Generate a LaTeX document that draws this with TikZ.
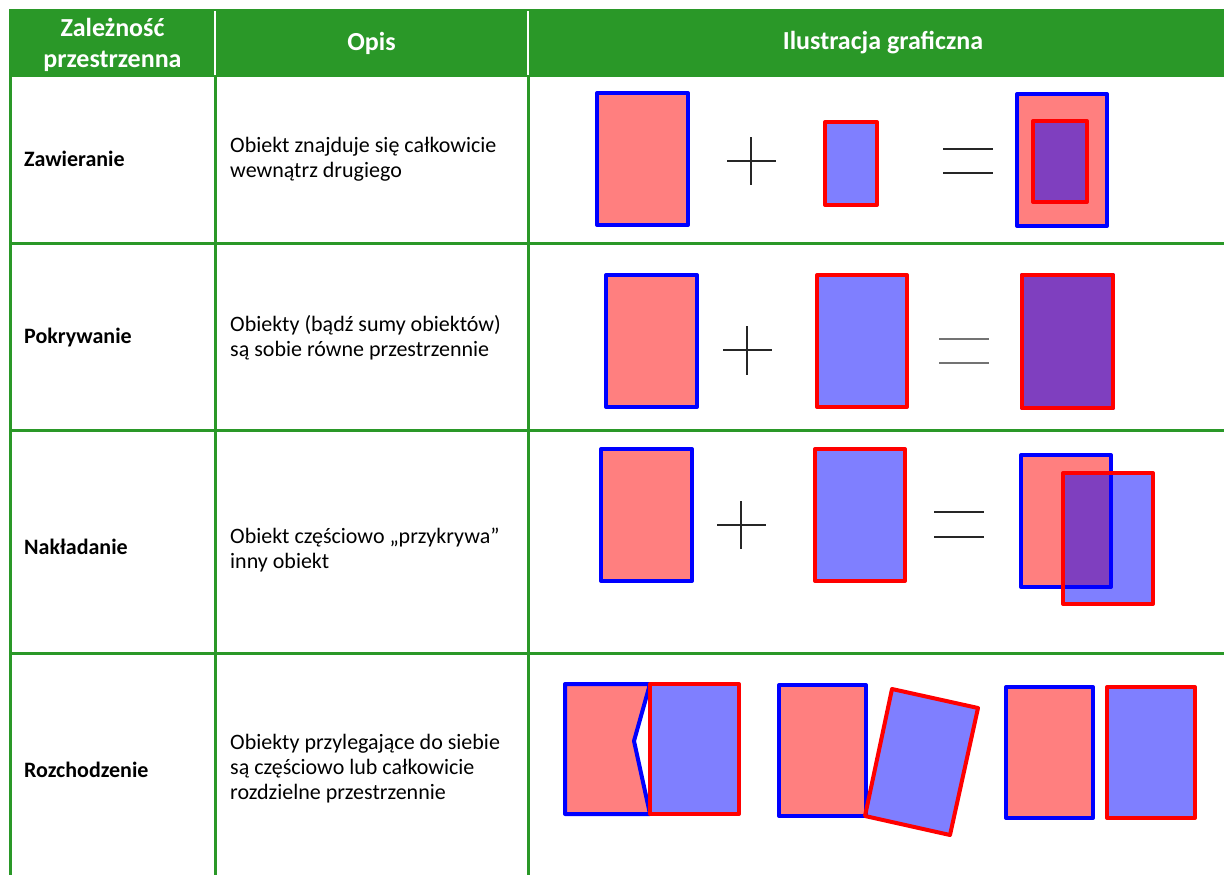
\documentclass[tikz,border=0pt]{standalone}
\usepackage{fontspec}
\setmainfont{Carlito}
\definecolor{tabgreen}{RGB}{42,152,40}
\begin{document}
\begin{tikzpicture}[x=1pt,y=-1pt,
  grid/.style={draw=tabgreen, line width=3pt},
  hdr/.style={text=white, inner sep=0pt, align=center, font=\fontsize{26}{31}\selectfont\bfseries},
  lbl/.style={anchor=west, inner sep=0pt, font=\fontsize{22}{25}\selectfont\bfseries},
  desc/.style={anchor=west, inner sep=0pt, align=left, font=\fontsize{22}{25}\selectfont},
  pinkbox/.style={fill=red, fill opacity=0.5, draw=blue, draw opacity=1, line width=4pt, line join=round},
  bluebox/.style={fill=blue, fill opacity=0.5, draw=red, draw opacity=1, line width=4pt, line join=round},
  sign/.style={draw=black!85, line width=1.5pt},
  greysign/.style={draw=black!55, line width=1.8pt}]
\useasboundingbox (0,0) rectangle (1224,875);
\clip (0,0) rectangle (1224,875);
\fill[white] (0,0) rectangle (1224,875);

% header band
\fill[tabgreen] (9,9) rectangle (1240,77);
\draw[white, line width=2.5pt] (215,11) -- (215,75) (528,11) -- (528,75);

% table rules
\draw[grid] (10,77) -- (10,880);
\draw[grid] (215,77) -- (215,880);
\draw[grid] (528,77) -- (528,880);
\draw[grid] (10,243) -- (1240,243);
\draw[grid] (10,430) -- (1240,430);
\draw[grid] (10,653) -- (1240,653);

% header texts
\node[hdr] (h1) at (112.5,45) {Zależność\\przestrzenna};
\node[hdr] (h2) at (371.5,43) {Opis};
\node[hdr] (h3) at (883,43) {Ilustracja graficzna};

% first column
\node[lbl] (r1) at (24,159) {Zawieranie};
\node[lbl] (r2) at (24,338) {Pokrywanie};
\node[lbl] (r3) at (24,547) {Nakładanie};
\node[lbl] (r4) at (24,770) {Rozchodzenie};

% second column
\node[desc] (d1) at (230,159) {Obiekt znajduje się całkowicie\\wewnątrz drugiego};
\node[desc] (d2) at (230,338) {Obiekty (bądź sumy obiektów)\\są sobie równe przestrzennie};
\node[desc] (d3) at (230,550) {Obiekt częściowo „przykrywa”\\inny obiekt};
\node[desc] (d4) at (230,769) {Obiekty przylegające do siebie\\są częściowo lub całkowicie\\rozdzielne przestrzennie};

% containment
\draw[pinkbox] (597,93) rectangle (688,225);
\draw[sign] (727,161) -- (776,161) (751,137) -- (751,185);
\draw[bluebox] (825,122) rectangle (877,205);
\draw[sign] (943,149) -- (993,149) (943,173) -- (993,173);
\draw[pinkbox] (1017,94) rectangle (1107,226);
\draw[bluebox] (1033,121) rectangle (1087,202);

% covering
\draw[pinkbox] (606,275) rectangle (697,407);
\draw[sign] (723,350) -- (772,350) (747,326) -- (747,375);
\draw[bluebox] (817,275) rectangle (907,407);
\draw[greysign] (939,339) -- (989,339) (939,363) -- (989,363);
\draw[pinkbox] (1022,275) rectangle (1113,408);
\draw[bluebox] (1022,275) rectangle (1113,408);

% overlapping
\draw[pinkbox] (601,449) rectangle (692,581);
\draw[sign] (717,525) -- (766,525) (741,501) -- (741,549);
\draw[bluebox] (815,449) rectangle (905,581);
\draw[sign] (934,512) -- (984,512) (934,537) -- (984,537);
\draw[pinkbox] (1021,455) rectangle (1111,587);
\draw[bluebox] (1063,473) rectangle (1153,604);

% disjoint / touching
\draw[pinkbox] (565,684) -- (650,684) -- (634,741) -- (650,814) -- (565,814) -- cycle;
\draw[bluebox] (650,684) rectangle (739,814);
\draw[pinkbox] (779,685) rectangle (866,816);
\draw[bluebox] (892,689) -- (978,708) -- (950,835) -- (865,816) -- cycle;
\draw[pinkbox] (1006,687) rectangle (1093,818);
\draw[bluebox] (1107,687) rectangle (1195,818);
\end{tikzpicture}
\end{document}
